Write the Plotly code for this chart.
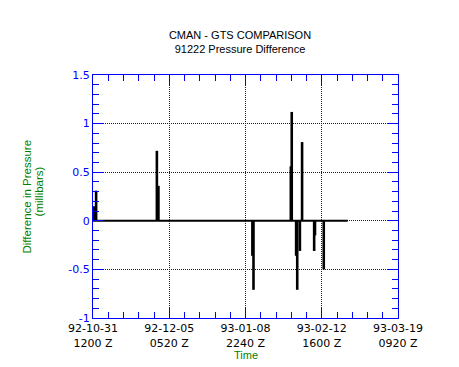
import plotly.graph_objects as go

title_text = "CMAN - GTS COMPARISON<br>91222 Pressure Difference"
y_title_lines = ["Difference in Pressure", "(millibars)"]
x_title = "Time"

series_start = "1992-10-31 12:00"
series_end = "1993-02-24 12:00"
spike_times = ["1992-11-01 02:00", "1992-11-01 22:00", "1992-11-29 14:00", "1992-11-30 07:00",
               "1993-01-12 02:00", "1993-01-12 14:00", "1993-01-29 14:00", "1993-01-30 00:00",
               "1993-02-01 00:00", "1993-02-01 12:00", "1993-02-02 17:00", "1993-02-03 17:00",
               "1993-02-09 05:00", "1993-02-09 14:00", "1993-02-13 14:00"]
spike_values = [0.15, 0.31, 0.72, 0.36,
                -0.36, -0.71, 0.56, 1.12,
                -0.36, -0.71, -0.31, 0.81,
                -0.31, -0.15, -0.50]

x_tick_times = ["1992-10-31 12:00", "1992-12-05 05:20", "1993-01-08 22:40",
                "1993-02-12 16:00", "1993-03-19 09:20"]
x_tick_labels = ["92-10-31<br>1200 Z", "92-12-05<br>0520 Z", "93-01-08<br>2240 Z",
                 "93-02-12<br>1600 Z", "93-03-19<br>0920 Z"]
y_tick_vals = [-1, -0.5, 0, 0.5, 1, 1.5]
y_tick_labels = ["-1", "-0.5", "0", "0.5", "1", "1.5"]

BLUE = "rgb(0,0,255)"
GREEN = "rgb(0,128,0)"
FONT = "Liberation Sans, Arial, sans-serif"
TICKFONT = "DejaVu Sans, Liberation Sans, sans-serif"

# zero baseline
base_x = [series_start, series_end]
base_y = [0, 0]
# vertical spikes
sx, sy = [], []
for t, v in zip(spike_times, spike_values):
    sx += [t, t, None]
    sy += [0, v, None]

fig = go.Figure()
fig.add_trace(go.Scatter(x=base_x, y=base_y, mode="lines",
                         line=dict(color="black", width=2), hoverinfo="skip",
                         showlegend=False))
fig.add_trace(go.Scatter(x=sx, y=sy, mode="lines", connectgaps=False,
                         line=dict(color="black", width=2.6), hoverinfo="skip",
                         showlegend=False))

# page body has an 8px margin; figure is sized/offset to compensate
fig.update_layout(
    width=451, height=359,
    margin=dict(l=85, r=61, t=67, b=49, autoexpand=False),
    paper_bgcolor="white", plot_bgcolor="white",
    font=dict(family=FONT, size=11, color="black"),
    title=dict(text=title_text, xref="paper", x=0.482, xanchor="center",
               yref="container", y=0.915, yanchor="middle",
               font=dict(family=FONT, size=11, color="black")),
    showlegend=False,
)

fig.update_xaxes(
    type="date",
    range=[x_tick_times[0], x_tick_times[-1]],
    tickmode="array", tickvals=x_tick_times, ticktext=x_tick_labels,
    tickfont=dict(family=TICKFONT, size=11, color="black"),
    ticklabelstandoff=0,
    ticks="inside", ticklen=10, tickwidth=1, tickcolor=BLUE,
    showline=True, linecolor=BLUE, linewidth=1, mirror="allticks",
    showgrid=True, gridcolor=BLUE, gridwidth=1, griddash="1px,1px",
    zeroline=False,
    minor=dict(ticks="inside", ticklen=6, tickwidth=1, tickcolor=BLUE,
               dtick=6e8, tick0=x_tick_times[0], showgrid=False),
)
fig.update_yaxes(
    range=[-1, 1.5],
    tickmode="array", tickvals=y_tick_vals, ticktext=y_tick_labels,
    tickfont=dict(family=TICKFONT, size=11, color=BLUE),
    ticks="inside", ticklen=10, tickwidth=1, tickcolor=BLUE,
    showline=True, linecolor=BLUE, linewidth=1, mirror="allticks",
    showgrid=True, gridcolor=BLUE, gridwidth=1, griddash="1px,1px",
    zeroline=False,
    minor=dict(ticks="inside", ticklen=6, tickwidth=1, tickcolor=BLUE,
               dtick=0.1, tick0=0, showgrid=False),
)

fig.add_annotation(text=y_title_lines[0], xref="paper", yref="paper",
                   x=-0.2148, y=0.502, xanchor="center", yanchor="middle",
                   textangle=-90, showarrow=False,
                   font=dict(family=FONT, size=11.5, color=GREEN))
fig.add_annotation(text=y_title_lines[1], xref="paper", yref="paper",
                   x=-0.1787, y=0.523, xanchor="center", yanchor="middle",
                   textangle=-90, showarrow=False,
                   font=dict(family=FONT, size=11.5, color=GREEN))
fig.add_annotation(text=x_title, xref="paper", yref="paper",
                   x=0.502, y=-0.152, xanchor="center", yanchor="middle",
                   showarrow=False,
                   font=dict(family=FONT, size=11, color=GREEN))

fig.write_html("out.html")
